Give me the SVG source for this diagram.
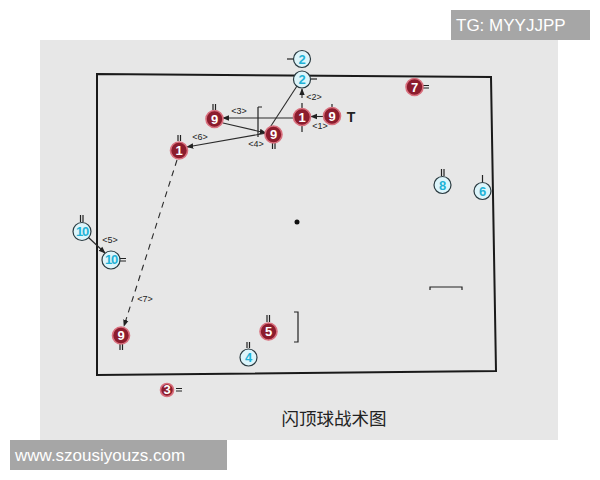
<svg xmlns="http://www.w3.org/2000/svg" width="600" height="480" viewBox="0 0 600 480">
<style>
.red circle{fill:#8c1c2d;stroke:#d9707e;stroke-width:1.6}
.red text{fill:#fff;font-family:"Liberation Sans",Arial,sans-serif;font-weight:bold;font-size:13px;text-anchor:middle}
.cy circle{fill:#dcf5fb;stroke:#2a3a40;stroke-width:1.2}
.cy text{fill:#1fb2d6;font-family:"Liberation Sans",Arial,sans-serif;font-weight:bold;font-size:13px;text-anchor:middle}
.tk{stroke:#222;stroke-width:1.2;fill:none}
.ln{stroke:#2a2a2a;stroke-width:1.1;fill:none}
.lb{font-family:"Liberation Sans",Arial,sans-serif;font-size:9px;fill:#222;text-anchor:middle}
.wm{font-family:"Liberation Sans",Arial,sans-serif;font-size:17px;fill:#fff}
</style>
<defs>
<marker id="ah" viewBox="0 0 10 10" refX="9" refY="5" markerWidth="7" markerHeight="7" orient="auto" markerUnits="userSpaceOnUse">
<path d="M0,1 L10,5 L0,9 Z" fill="#222"/>
</marker>
</defs>
<rect x="0" y="0" width="600" height="480" fill="#fff"/>
<rect x="40" y="40" width="518" height="400" fill="#e7e7e7"/>
<g id="court">
<polygon points="97,74 491,77 496,371 97,375" fill="none" stroke="#1a1a1a" stroke-width="2"/>
<circle cx="297" cy="222" r="2.5" fill="#111"/>
<path d="M258,107 L262,107 M258,107 L258,137" class="tk" stroke-width="1.3"/>
<path d="M294,312 L298,312 L298,342 L294,342" class="tk" stroke-width="1.3"/>
<path d="M430,290 L430,287 L462,287 L462,290" class="tk" stroke-width="1.5"/>
</g>
<g id="connectors">
<line x1="302" y1="98" x2="302" y2="89" class="ln" marker-end="url(#ah)"/>
<line x1="326" y1="116.5" x2="311" y2="116.5" class="ln" marker-end="url(#ah)"/>
<line x1="293" y1="118" x2="223" y2="118" class="ln" marker-end="url(#ah)"/>
<line x1="223" y1="123" x2="266" y2="133" class="ln" marker-end="url(#ah)"/>
<line x1="297" y1="86" x2="267" y2="132" class="ln"/>
<line x1="267" y1="133" x2="187" y2="147" class="ln" marker-end="url(#ah)"/>
<line x1="177" y1="160" x2="124" y2="326" class="ln" stroke-dasharray="6,5" marker-end="url(#ah)"/>
<line x1="88" y1="237" x2="105" y2="253" class="ln" marker-end="url(#ah)"/>
<text class="lb" x="314" y="100">&lt;2&gt;</text>
<text class="lb" x="320" y="129">&lt;1&gt;</text>
<text class="lb" x="239" y="114">&lt;3&gt;</text>
<text class="lb" x="256" y="147">&lt;4&gt;</text>
<text class="lb" x="200" y="140">&lt;6&gt;</text>
<text class="lb" x="110" y="243">&lt;5&gt;</text>
<text class="lb" x="145" y="302">&lt;7&gt;</text>
</g>
<g id="p-c2a" class="cy"><path class="tk" d="M287,59 L293,59"/><circle cx="302" cy="59" r="8.5"/><text x="302" y="63.5">2</text></g>
<g id="p-c2b" class="cy"><path class="tk" d="M311,79 L317,79"/><circle cx="302" cy="79.5" r="8.5"/><text x="302" y="84">2</text></g>
<g id="p-r1a" class="red"><path class="tk" d="M302,103 L302,108 M302,126 L302,132"/><circle cx="302" cy="117" r="8.5"/><text x="302" y="121.5">1</text></g>
<g id="p-r9a" class="red"><path class="tk" d="M332,104 L332,107"/><circle cx="332" cy="116" r="8.5"/><text x="332" y="120.5">9</text></g>
<text id="T" x="351" y="122" font-family="Liberation Sans,Arial,sans-serif" font-weight="bold" font-size="14" fill="#222" text-anchor="middle">T</text>
<g id="p-r9b" class="red"><path class="tk" d="M213,104 L213,110 M215.5,104 L215.5,110"/><circle cx="214.5" cy="119" r="8.5"/><text x="214.5" y="123.5">9</text></g>
<g id="p-r9c" class="red"><path class="tk" d="M272.5,143 L272.5,149 M275,143 L275,149"/><circle cx="273.5" cy="134.5" r="8.5"/><text x="273.5" y="139">9</text></g>
<g id="p-r1b" class="red"><path class="tk" d="M178,135 L178,141 M180.5,135 L180.5,141"/><circle cx="179" cy="150.5" r="8.5"/><text x="179" y="155">1</text></g>
<g id="p-r7" class="red"><path class="tk" d="M423,85.5 L429,85.5 M423,88 L429,88"/><circle cx="414.5" cy="87" r="8.5"/><text x="414.5" y="91.5">7</text></g>
<g id="p-c8" class="cy"><path class="tk" d="M441.5,169 L441.5,176 M444,169 L444,176"/><circle cx="442.5" cy="185" r="8.5"/><text x="442.5" y="189.5">8</text></g>
<g id="p-c6" class="cy"><path class="tk" d="M482.5,175 L482.5,182"/><circle cx="482.5" cy="191" r="8.5"/><text x="482.5" y="195.5">6</text></g>
<g id="p-c10a" class="cy"><path class="tk" d="M80.5,215 L80.5,222 M83,215 L83,222"/><circle cx="82" cy="231.5" r="9"/><text x="82" y="235.5" font-size="12" letter-spacing="-1.2">10</text></g>
<g id="p-c10b" class="cy"><path class="tk" d="M120,258.5 L126,258.5 M120,261 L126,261"/><circle cx="111" cy="260" r="9"/><text x="111" y="264" font-size="12" letter-spacing="-1.2">10</text></g>
<g id="p-r9d" class="red"><path class="tk" d="M120,344 L120,350 M122.5,344 L122.5,350"/><circle cx="121" cy="335.5" r="8.5"/><text x="121" y="340">9</text></g>
<g id="p-r5" class="red"><path class="tk" d="M267,315 L267,322 M269.5,315 L269.5,322"/><circle cx="268.5" cy="331.5" r="8.5"/><text x="268.5" y="336">5</text></g>
<g id="p-c4" class="cy"><path class="tk" d="M247,342 L247,348 M249.5,342 L249.5,348"/><circle cx="248.5" cy="357.5" r="8.5"/><text x="248.5" y="362">4</text></g>
<g id="p-r3" class="red"><path class="tk" d="M176,388.5 L182,388.5 M176,391 L182,391"/><circle cx="167" cy="390" r="6.5"/><text x="167" y="394" font-size="10">3</text></g>
<text id="title" x="334" y="425" font-family="Noto Sans CJK SC,sans-serif" font-size="17.5" fill="#222" text-anchor="middle">闪顶球战术图</text>
<g id="wm1"><rect x="451" y="10" width="139" height="30" fill="#a6a6a6"/><text class="wm" x="456" y="31">TG: MYYJJPP</text></g>
<g id="wm2"><rect x="10" y="440" width="217" height="30" fill="#a6a6a6"/><text class="wm" x="15" y="461">www.szousiyouzs.com</text></g>
</svg>
